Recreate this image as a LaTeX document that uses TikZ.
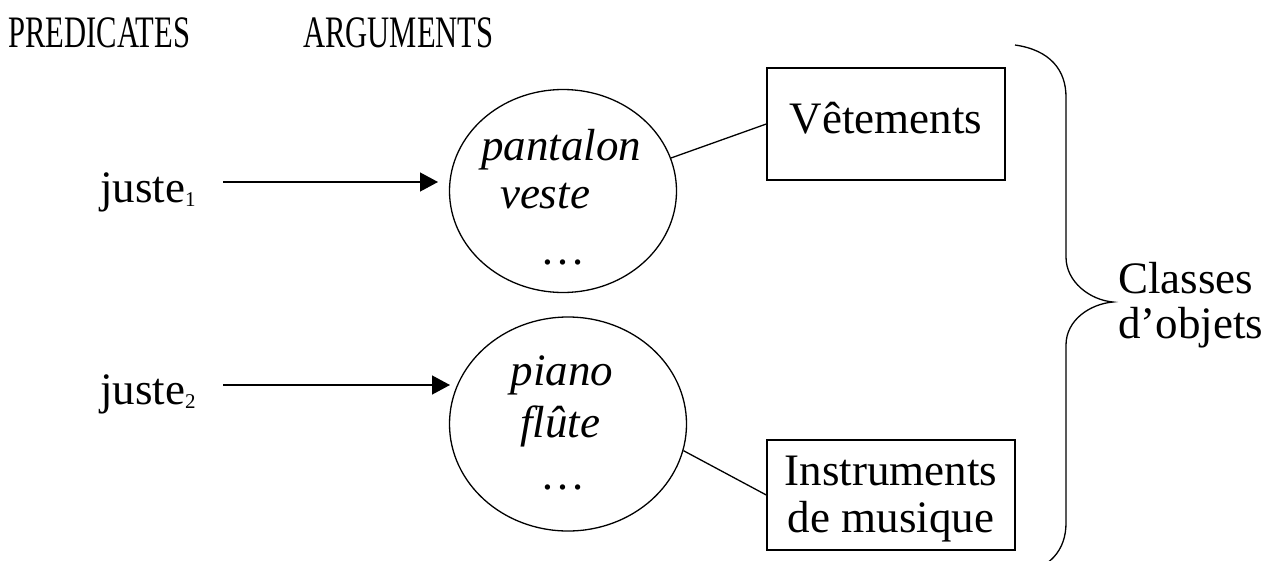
\documentclass[tikz,border=0pt]{standalone}
\usepackage{fontspec}
\setmainfont{Liberation Serif}
\usetikzlibrary{arrows.meta,shapes.geometric}
\tikzset{
 lbl/.style={inner sep=0pt, font=\fontsize{45}{47}\selectfont},
 itlbl/.style={inner sep=0pt, font=\fontsize{45}{47}\selectfont\itshape},
 clslbl/.style={inner sep=0pt, font=\fontsize{45}{45}\selectfont, align=left},
 argset/.style={draw, ellipse, line width=1.3pt, inner sep=0pt},
 classbox/.style={draw, rectangle, line width=1.4pt, inner sep=0pt, font=\fontsize{45}{47}\selectfont},
 arr/.style={line width=1.3pt, -{Triangle[length=18pt,width=19pt]}},
 link/.style={line width=1.3pt},
}
\newcommand{\subsc}[1]{\raisebox{-4pt}{\fontsize{21}{21}\selectfont #1}}
\begin{document}
\begin{tikzpicture}[x=1pt,y=-1pt]
\clip (0,0) rectangle (1269,560);
% headers
\node[lbl, anchor=base west] (hp) at (8,47) {\scalebox{0.68}[1]{PREDICATES}};
\node[lbl, anchor=base west] (ha) at (303,47) {\scalebox{0.68}[1]{ARGUMENTS}};
% predicates
\node[lbl, anchor=base west] (j1) at (100,202) {juste\subsc{1}};
\node[lbl, anchor=base west] (j2) at (100,404) {juste\subsc{2}};
% argument sets
\node[argset, minimum width=227pt, minimum height=203pt] (e1) at (563,191) {};
\node[argset, minimum width=237pt, minimum height=214pt] (e2) at (568,424) {};
\node[itlbl, anchor=base] (w1) at (561,160) {pantalon};
\node[itlbl, anchor=base] (w2) at (545,208) {veste};
\node[lbl, anchor=base] (w3) at (563,264) {…};
\node[itlbl, anchor=base] (w4) at (562,385) {piano};
\node[itlbl, anchor=base] (w5) at (560,437) {flûte};
\node[lbl, anchor=base] (w6) at (563,489) {…};
% classes
\node[classbox, minimum width=238pt, minimum height=112pt, text height=30pt, text depth=12pt] (v) at (886,124) {Vêtements};
\node[classbox, minimum width=248pt, minimum height=110pt, align=center] (ins) at (891,495) {\rule{0pt}{37pt}Instruments\\de musique};
\node[clslbl, anchor=west] (cl) at (1118,305) {Classes\\d’objets};
% arrows
\coordinate (a1s) at (223,182);
\coordinate (a1e) at (438,182);
\coordinate (a2s) at (223,385);
\coordinate (a2e) at (450,385);
\draw[arr] (a1s) -- (a1e);
\draw[arr] (a2s) -- (a2e);
% links
\draw[link] (e1.17.6) -- (v.west);
\draw[link] (e2.-13.6) -- (ins.west);
% brace
\draw[link] (1015,45) .. controls (1050,50) and (1066,70) .. (1066,97) -- (1066,257)
  .. controls (1066,282) and (1090,300) .. (1113,302)
  .. controls (1090,304) and (1066,320) .. (1066,345) -- (1066,523)
  .. controls (1066,550) and (1050,570) .. (1015,575);
\end{tikzpicture}
\end{document}
